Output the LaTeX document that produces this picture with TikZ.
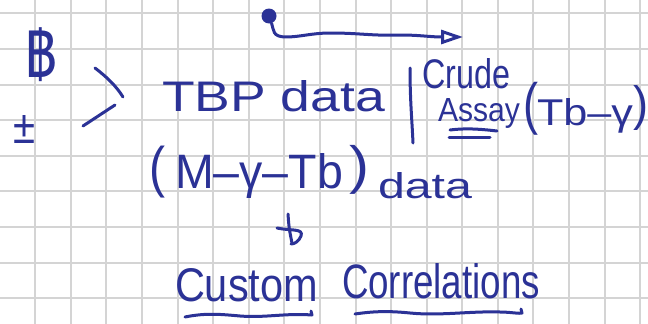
\documentclass[tikz,border=0pt]{standalone}
\usepackage{fontspec}
\setmainfont{Liberation Sans}
\newfontfamily\thaifont[Script=Thai]{Loma}
\usetikzlibrary{arrows.meta}
\definecolor{ink}{RGB}{43,50,150}
\definecolor{gridc}{RGB}{212,212,212}
\newcommand\fitbase[3]{\resizebox{#1pt}{#2pt}{#3}}
\newcommand\fitall[3]{\resizebox*{#1pt}{#2pt}{#3}}
\begin{document}
\begin{tikzpicture}[x=1pt,y=-1pt,
  pen/.style={draw=ink, line width=3pt, line cap=round, line join=round},
  txt/.style={inner sep=0pt, outer sep=0pt, text=ink, anchor=base west},
  glyph/.style={inner sep=0pt, outer sep=0pt, text=ink, anchor=north west},
  gridline/.style={draw=gridc, line width=2pt}]
\fill[white] (0,0) rectangle (648,324);
\useasboundingbox (0,0) rectangle (648,324);
\foreach \i in {0,...,17} \draw[gridline] ({35.3+35.58*\i},0) -- ({35.3+35.58*\i},324);
\foreach \j in {0,...,8} \draw[gridline] (0,{13.3+35.6*\j}) -- (648,{13.3+35.6*\j});

% texts
\node[txt] (tbp) at (162,111) {\fitbase{223}{31}{TBP data}};
\node[txt] (crude) at (422,88) {\fitbase{88}{30}{Crude}};
\node[txt] (assay) at (438,121) {\fitbase{82}{23}{Assay}};
\node[glyph] (lpa) at (523,82) {\fitall{15}{53}{(}};
\node[txt] (tbg) at (537,125) {\fitbase{96}{27}{Tb–γ}};
\node[glyph] (rpa) at (633,85) {\fitall{15}{45}{)}};
\node[glyph] (lpb) at (149,146) {\fitall{16}{52}{(}};
\node[txt] (mgt) at (175,188) {\fitbase{168}{35}{M–γ–Tb}};
\node[glyph] (rpb) at (349,145) {\fitall{20}{49}{)}};
\node[txt] (datab) at (378,198) {\fitbase{94}{26}{data}};
\node[txt] (custom) at (175,301) {\fitbase{143}{33}{Custom}};
\node[txt] (corr) at (342,298) {\fitbase{198}{35}{Correlations}};
\node[glyph] (baht) at (25,28) {\fitall{32}{54}{\thaifont ฿}};
\node[glyph] (pm) at (13,115) {\fitall{22}{28}{±}};

% top arrow
\node[circle, fill=ink, inner sep=0pt, minimum size=15pt] (dot) at (269,16) {};
\coordinate (tip) at (463,37);
\draw[pen, -{Triangle[open, length=22pt, width=14pt]}] (dot) .. controls (274,30) and (272,37) .. (286,37)
  .. controls (300,37) and (312,33) .. (330,33) .. controls (360,33) and (372,36) .. (400,35)
  .. controls (420,35) and (430,37) .. (tip);

% chevron strokes
\draw[pen] (95,68) .. controls (108,78) and (116,86) .. (123,97);
\draw[pen] (115,105) -- (83,126);

% vertical bar
\draw[pen] (410,68) .. controls (410,100) and (412,120) .. (413,143);

% double underline
\draw[pen] (450,130) .. controls (465,128) and (480,129) .. (497,131);
\draw[pen] (449,137) -- (490,137);

% down mark
\draw[pen] (288,214) .. controls (289,228) .. (292,243);
\draw[pen] (277,228) .. controls (290,231) and (304,228) .. (301,236) .. controls (299,241) and (295,244) .. (291,244);

% underlines
\draw[pen] (185,317) .. controls (205,313) and (218,314) .. (240,316) .. controls (265,318) and (285,313) .. (312,315) -- (311,311);
\draw[pen] (355,314) .. controls (375,311) and (390,311) .. (410,313) .. controls (440,316) and (470,311) .. (500,312) .. controls (510,312) and (520,314) .. (522,313) -- (521,309);
\end{tikzpicture}
\end{document}
